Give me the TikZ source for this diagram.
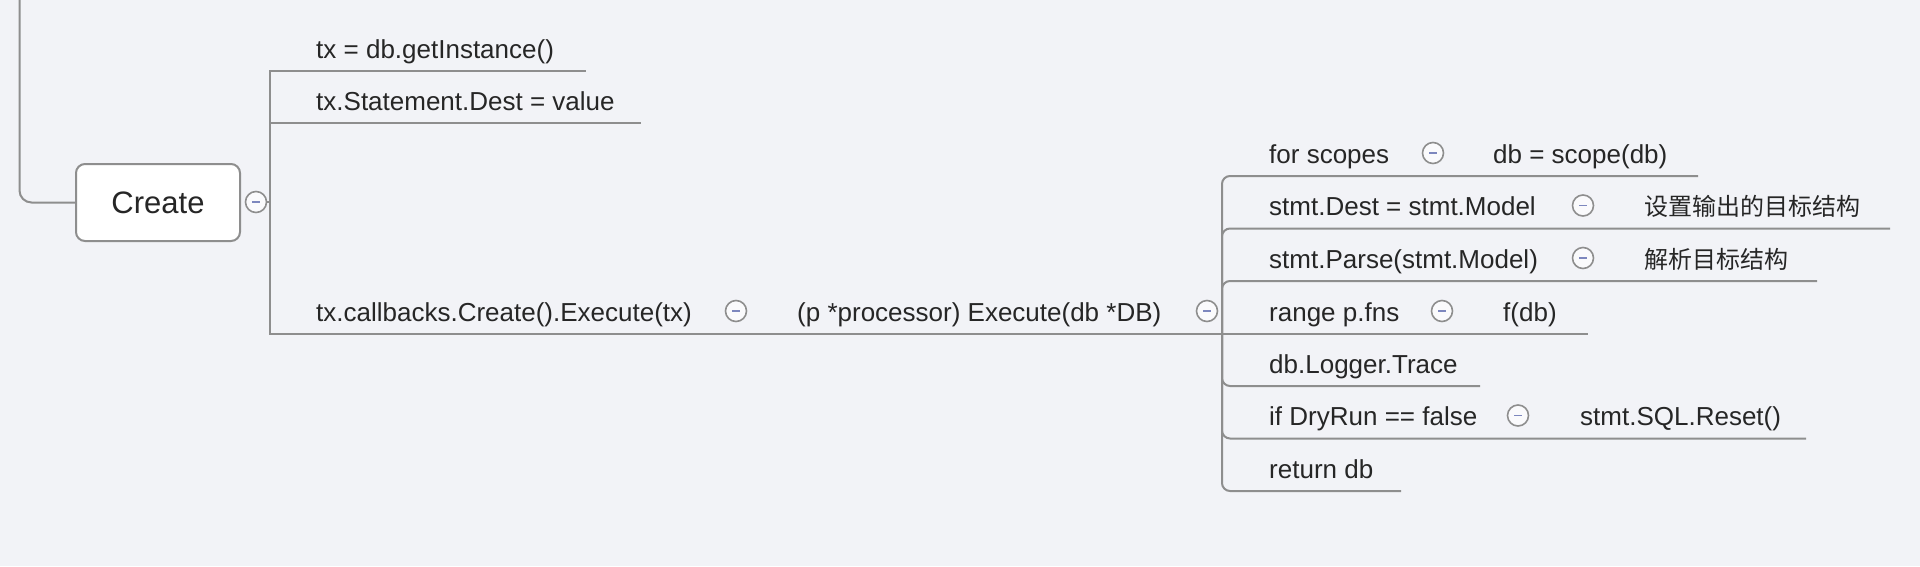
\documentclass[tikz,border=0pt]{standalone}
\usepackage{fontspec}
\setmainfont{Liberation Sans}
\newfontfamily\cjk{Noto Sans CJK SC}
\usepackage{tikz}
\definecolor{mmBg}{RGB}{242,243,247}
\definecolor{mmLine}{RGB}{142,142,142}
\definecolor{mmText}{RGB}{38,38,38}
\definecolor{mmMinus}{RGB}{125,135,190}
\newcommand{\foldmark}{\textcolor{mmMinus}{\rule[-0.8pt]{8pt}{1.6pt}}}
\tikzset{
  topic/.style={anchor=base west, inner sep=0pt, text=mmText, font=\fontsize{26}{30}\selectfont},
  note/.style={topic, font=\cjk\fontsize{24}{28}\selectfont},
  fold/.style={circle, draw=mmLine, line width=1.6pt, fill=white!60!mmBg, minimum size=21pt, inner sep=0pt},
  branch/.style={draw=mmLine, line width=2pt},
  rootbox/.style={draw=mmLine, line width=2pt, fill=white, rounded corners=9pt, minimum width=164pt, minimum height=77pt, text=mmText, font=\fontsize{31}{36}\selectfont}
}

\begin{document}
\begin{tikzpicture}[x=1pt, y=-1pt]
  % Canvas
  \fill[mmBg] (0,0) rectangle (1920,566);
  \useasboundingbox (0,0) rectangle (1920,566);

  % Root
  \node[rootbox] (create) at (158,202.5) {Create};
  \coordinate (up) at (19.5,0);
  \draw[branch, rounded corners=12pt] (up) |- (create.west);
  \node[fold] (fcreate) at (256,202) {\foldmark};

  % First level
  \node[topic] (getinst) at (316,58) {tx = db.getInstance()};
  \node[topic] (setdest) at (316,110) {tx.Statement.Dest = value};
  \node[topic] (execcb) at (316,321) {tx.callbacks.Create().Execute(tx)};
  \node[fold] (fexec) at (736,311) {\foldmark};
  \node[topic] (procexec) at (797,321) {(p *processor) Execute(db *DB)};
  \node[fold] (fproc) at (1207,311) {\foldmark};

  \coordinate (j1) at (270,202);
  \coordinate (j2) at (1222,334);
  \coordinate (getinstEnd) at (586,71);
  \coordinate (setdestEnd) at (641,123);
  \draw[branch] (fcreate) -- (j1);
  \draw[branch] (j1) |- (getinstEnd);
  \draw[branch] (j1) |- (setdestEnd);

  % Processor steps
  \node[topic] (forscopes) at (1269,163) {for scopes};
  \node[fold] (fscopes) at (1433,153) {\foldmark};
  \node[topic] (scopedb) at (1493,163) {db = scope(db)};

  \node[topic] (stmtdest) at (1269,215.5) {stmt.Dest = stmt.Model};
  \node[fold] (fdest) at (1583,205.5) {\foldmark};
  \node[note] (destnote) at (1644,215.5) {设置输出的目标结构};

  \node[topic] (stmtparse) at (1269,268) {stmt.Parse(stmt.Model)};
  \node[fold] (fparse) at (1583,258) {\foldmark};
  \node[note] (parsenote) at (1644,268) {解析目标结构};

  \node[topic] (rangefns) at (1269,321) {range p.fns};
  \node[fold] (ffns) at (1442,311) {\foldmark};
  \node[topic] (fdb) at (1503,321) {f(db)};

  \node[topic] (logtrace) at (1269,373) {db.Logger.Trace};

  \node[topic] (dryrun) at (1269,425.5) {if DryRun == false};
  \node[fold] (fdry) at (1518,415.5) {\foldmark};
  \node[topic] (sqlreset) at (1580,425.5) {stmt.SQL.Reset()};

  \node[topic] (retdb) at (1269,478) {return db};

  \coordinate (e1) at (1698,176);
  \coordinate (e2) at (1890,228.5);
  \coordinate (e3) at (1817,281);
  \coordinate (e4) at (1588,334);
  \coordinate (e5) at (1480,386);
  \coordinate (e6) at (1806,438.5);
  \coordinate (e7) at (1401,491);

  \draw[branch] (j1) |- (e4);
  \foreach \e in {e1,e2,e3,e5,e6,e7}
    \draw[branch, rounded corners=8pt] (j2) |- (\e);
\end{tikzpicture}
\end{document}
